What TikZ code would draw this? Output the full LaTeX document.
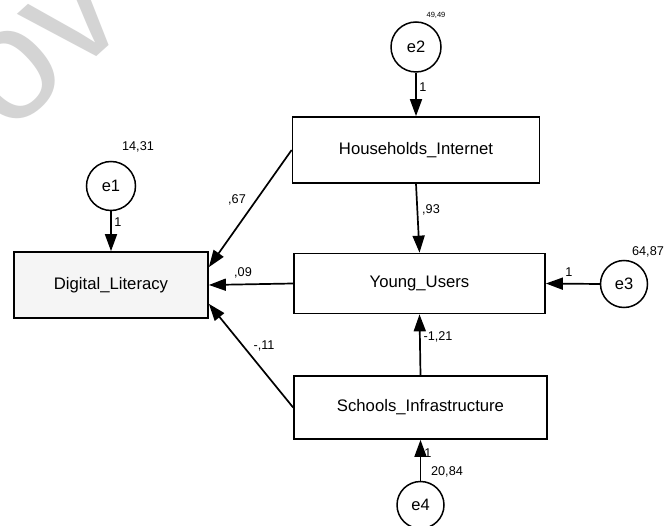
\documentclass[tikz,border=0pt]{standalone}
\usepackage{fontspec}
\setmainfont{Liberation Sans}
\usetikzlibrary{arrows.meta,calc,shapes.geometric}
\begin{document}
\begin{tikzpicture}[x=1pt,y=-1pt,
  box/.style={draw,line width=1.7pt,rectangle,inner sep=0pt,font=\fontsize{16.7}{20}\selectfont},
  err/.style={draw,line width=1.5pt,circle,inner sep=0pt,font=\fontsize{16.5}{20}\selectfont},
  path/.style={line width=1.7pt,-{Triangle[length=17pt,width=12pt]}},
  lbl/.style={inner sep=0pt,font=\fontsize{12.7}{15}\selectfont},
  wmark/.style={text=black!17,rotate=42,inner sep=0pt,anchor=base west,font=\fontsize{160}{160}\selectfont}]
\useasboundingbox (0,0) rectangle (666,526);
\fill[white] (0,0) rectangle (666,526);
\begin{scope}
  \clip (0,0) rectangle (666,526);
  \node[wmark] (wm) at (7,137) {ov};
\end{scope}
% boxes
\node[box,minimum width=247pt,minimum height=66pt] (hi) at (416,150) {Households\_Internet};
\node[box,minimum width=194pt,minimum height=66pt,fill=black!4] (dl) at (111,285) {Digital\_Literacy};
\node[box,minimum width=251pt,minimum height=60pt] (yu) at (419.5,283.5) {Young\_Users};
\node[box,minimum width=253pt,minimum height=63pt] (si) at (420.5,407.5) {Schools\_Infrastructure};
% error terms
\node[err,minimum size=49pt] (e1) at (111,186) {e1};
\node[err,minimum size=50pt] (e2) at (416,47) {e2};
\node[err,minimum size=47pt] (e3) at (624,284) {e3};
\node[err,minimum size=47pt] (e4) at (420.5,505) {e4};
% paths
\draw[path] (e1.south) -- (dl.north);
\draw[path] (e2.south) -- (hi.north);
\draw[path] (e3.west) -- (yu.east);
\draw[path] (e4.north) -- (si.south);
\draw[path] (hi.south) -- (yu.north);
\draw[path] (si.north) -- (yu.south);
\draw[path] (hi.west) -- ($(dl.north east)+(0,16)$);
\draw[path] (yu.west) -- (dl.east);
\draw[path] (si.west) -- ($(dl.south east)+(0,-15)$);
% labels
\node[lbl,font=\fontsize{7.5}{9}\selectfont] (v2) at (436,15) {49,49};
\node[lbl] (v1) at (138,147) {14,31};
\node[lbl] (v3) at (648,252) {64,87};
\node[lbl] (v4) at (447,472) {20,84};
\node[lbl] (w1) at (118,222) {1};
\node[lbl] (w2) at (423,87) {1};
\node[lbl] (w3) at (569,272) {1};
\node[lbl] (w4) at (428,453) {1};
\node[lbl] (c67) at (237,200) {,67};
\node[lbl] (c93) at (431,210) {,93};
\node[lbl] (c09) at (243,273) {,09};
\node[lbl] (c11) at (264,346) {-,11};
\node[lbl] (c121) at (438,337) {-1,21};
\end{tikzpicture}
\end{document}
